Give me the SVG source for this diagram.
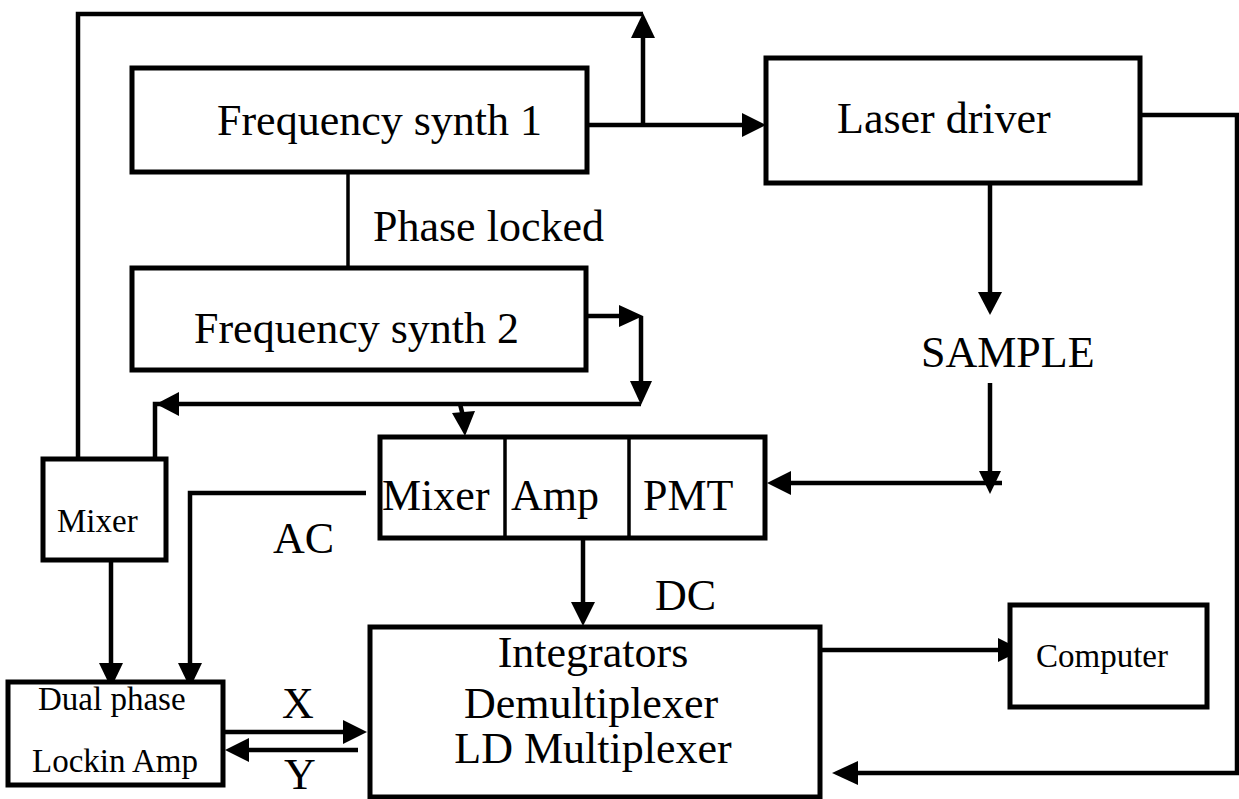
<svg xmlns="http://www.w3.org/2000/svg" width="1239" height="799" viewBox="0 0 1239 799">
<style>
.box{fill:#fff;stroke:#000;stroke-width:5}
.ln{fill:none;stroke:#000;stroke-width:4.5}
.thin{fill:none;stroke:#000;stroke-width:3.5}
.ah{fill:#000;stroke:none}
.t{font-family:"Liberation Serif","Times New Roman",serif;fill:#000}
.big{font-size:44px}
.sm{font-size:33px}
</style>
<rect width="1239" height="799" fill="#fff"/>
<g id="connectors">
<polyline class="ln" points="643,125 643,36"/>
<polygon class="ah" points="643,13 631,38 655,38"/>
<polyline class="ln" points="643,14 78,14 78,459"/>
<line class="ln" x1="587" y1="125" x2="745" y2="125"/>
<polygon class="ah" points="766,125 742,113 742,137"/>
<line class="thin" x1="348" y1="172" x2="348" y2="268"/>
<line class="ln" x1="990" y1="183" x2="990" y2="296"/>
<polygon class="ah" points="990,315 978,292 1002,292"/>
<line class="ln" x1="990" y1="383" x2="990" y2="475"/>
<polygon class="ah" points="990,494 979,471 1001,471"/>
<line class="ln" x1="1002" y1="483" x2="788" y2="483"/>
<polygon class="ah" points="767,483 791,471 791,495"/>
<polyline class="ln" points="1140,115 1237,115 1237,773 855,773"/>
<polygon class="ah" points="832,773 858,761 858,785"/>
<line class="ln" x1="586" y1="316" x2="622" y2="316"/>
<polygon class="ah" points="643,316 619,305 619,327"/>
<line class="ln" x1="641" y1="316" x2="641" y2="385"/>
<polygon class="ah" points="641,405 630,381 652,381"/>
<polyline class="ln" points="641,404 155,404 155,459"/>
<polygon class="ah" points="156,404 179,392 179,416"/>
<line class="ln" x1="460" y1="404" x2="463" y2="416"/>
<polygon class="ah" points="465,436 452,413 475,411"/>
<polyline class="ln" points="366,493 190,493 190,666"/>
<polygon class="ah" points="190,688 178,663 202,663"/>
<line class="ln" x1="111" y1="560" x2="111" y2="666"/>
<polygon class="ah" points="111,688 99,663 123,663"/>
<line class="ln" x1="583" y1="539" x2="583" y2="605"/>
<polygon class="ah" points="583,626 571,602 595,602"/>
<line class="ln" x1="223" y1="732" x2="346" y2="732"/>
<polygon class="ah" points="367,732 343,720 343,744"/>
<line class="ln" x1="358" y1="750" x2="245" y2="750"/>
<polygon class="ah" points="225,750 249,738 249,762"/>
<line class="ln" x1="820" y1="650" x2="1002" y2="650"/>
<polygon class="ah" points="1022,650 998,638 998,662"/>
</g>
<g id="synth1">
<rect class="box" x="132" y="68" width="455" height="104"/>
<text class="t big" x="217" y="135">Frequency synth 1</text>
</g>
<g id="phase-label">
<text class="t big" x="373" y="241">Phase locked</text>
</g>
<g id="synth2">
<rect class="box" x="132" y="268" width="454" height="102"/>
<text class="t big" x="194" y="343">Frequency synth 2</text>
</g>
<g id="laser-driver">
<rect class="box" x="766" y="58" width="374" height="125"/>
<text class="t big" x="837" y="133">Laser driver</text>
</g>
<g id="sample">
<text class="t big" x="921" y="367">SAMPLE</text>
</g>
<g id="mixer-amp-pmt">
<rect class="box" x="380" y="437" width="385" height="101"/>
<line class="thin" x1="505" y1="437" x2="505" y2="538"/>
<line class="thin" x1="629" y1="437" x2="629" y2="538"/>
<text class="t big" x="382" y="510">Mixer</text>
<text class="t big" x="511" y="510">Amp</text>
<text class="t big" x="643" y="510">PMT</text>
</g>
<g id="small-mixer">
<rect class="box" x="43" y="459" width="123" height="101"/>
<text class="t sm" x="57" y="532">Mixer</text>
</g>
<g id="lockin">
<rect class="box" x="8" y="682" width="215" height="103"/>
<text class="t sm" x="38" y="710">Dual phase</text>
<text class="t sm" x="32" y="772">Lockin Amp</text>
</g>
<g id="integrators">
<rect class="box" x="370" y="627" width="450" height="170"/>
<text class="t big" x="593" y="667" text-anchor="middle">Integrators</text>
<text class="t big" x="591" y="718" text-anchor="middle">Demultiplexer</text>
<text class="t big" x="593" y="763" text-anchor="middle">LD Multiplexer</text>
</g>
<g id="computer">
<rect class="box" x="1010" y="605" width="197" height="102"/>
<text class="t sm" x="1036" y="667">Computer</text>
</g>
<g id="labels">
<text class="t big" x="273" y="553">AC</text>
<text class="t big" x="655" y="610">DC</text>
<text class="t big" x="282" y="718">X</text>
<text class="t big" x="284" y="789" font-size="38">Y</text>
</g>
</svg>
